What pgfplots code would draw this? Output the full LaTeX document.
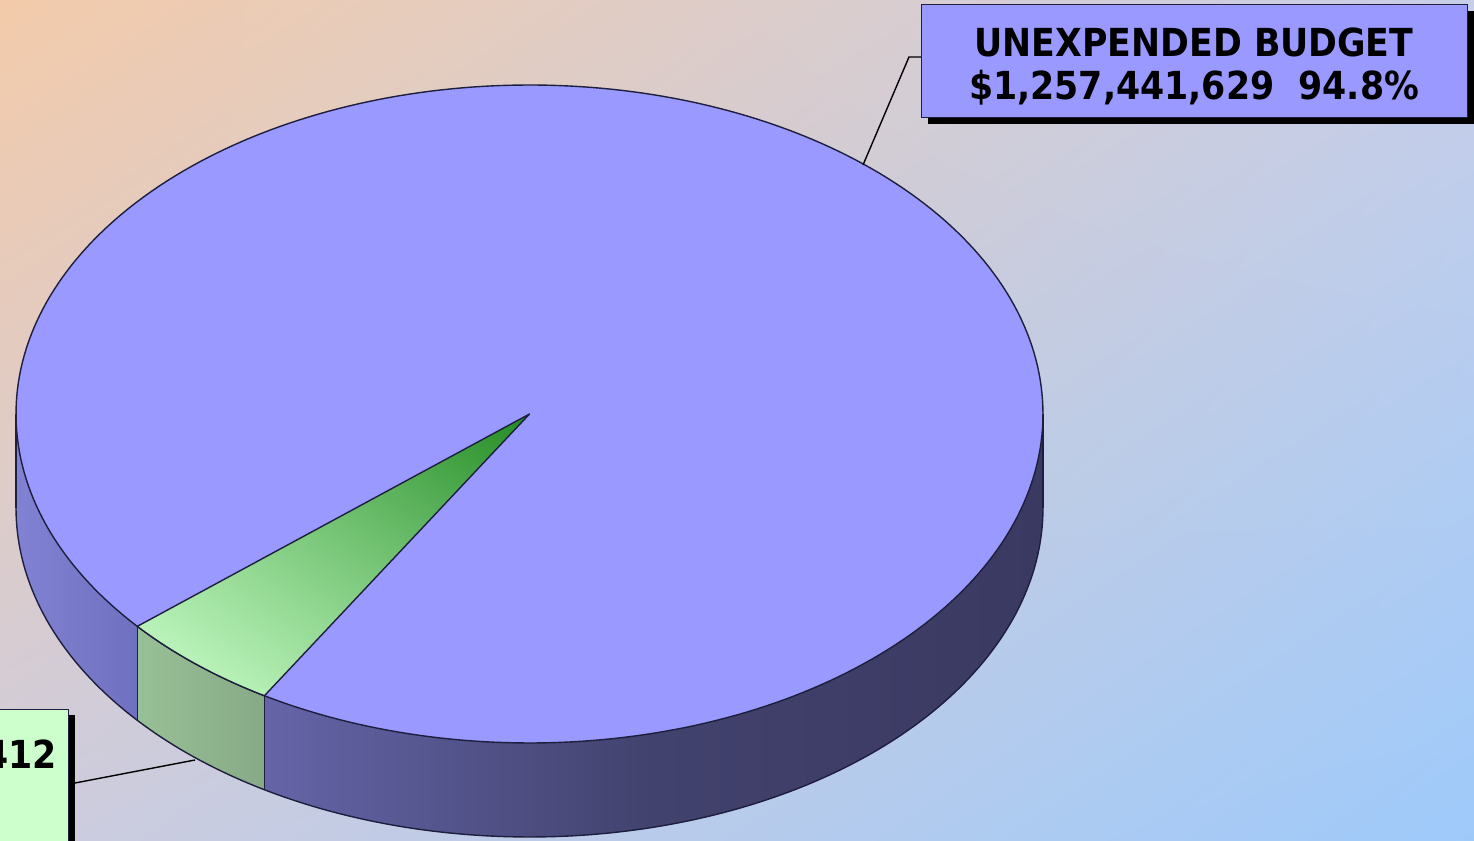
\documentclass[border=0pt]{standalone}
\usepackage{pgfplots}
\pgfplotsset{compat=1.18}
\usepackage{pgfplotstable}
\usepgfplotslibrary{fillbetween}
\usetikzlibrary{shadings}
\usepackage{fontspec}
\setmainfont{Liberation Sans}
\newfontfamily\labfont{DejaVuSansCondensed-Bold.ttf}

\definecolor{pieblue}{RGB}{153,153,255}
\definecolor{edge}{RGB}{30,30,62}
\definecolor{sideAL}{RGB}{130,130,212}
\definecolor{sideAR}{RGB}{112,112,192}
\definecolor{greenSL}{RGB}{152,192,150}
\definecolor{greenSR}{RGB}{134,170,134}
\definecolor{sideBL}{RGB}{100,100,168}
\definecolor{sideBM}{RGB}{66,66,110}
\definecolor{sideBR}{RGB}{57,57,97}
\definecolor{greenDark}{RGB}{34,139,34}
\definecolor{greenMid}{RGB}{130,205,130}
\definecolor{greenLight}{RGB}{204,255,204}
\definecolor{bgUL}{RGB}{243,203,170}
\definecolor{bgUR}{RGB}{200,206,232}
\definecolor{bgLL}{RGB}{206,204,222}
\definecolor{bgLR}{RGB}{158,202,250}
\definecolor{boxgreen}{RGB}{204,255,204}

\pgfplotstableread{
slice pct
Unexpended 94.8
Expended 5.2
}\piedata

\begin{document}
\begin{tikzpicture}
\pgfplotstablegetelem{1}{pct}\of\piedata
\let\pctB\pgfplotsretval
\def\cx{529.5}\def\cy{414}\def\rx{513.5}\def\ry{329}\def\dep{94}
\pgfmathsetmacro\gEnd{139.8}
\pgfmathsetmacro\gStart{\gEnd-3.6*\pctB}
\begin{axis}[x=0.5pt, y=0.5pt, y dir=reverse,
  xmin=0, xmax=1474, ymin=0, ymax=841,
  hide axis, clip=false, set layers,
  every axis plot/.append style={line join=round}]
\coordinate (P0) at (axis cs:0,0);
\coordinate (P1) at (axis cs:1474,841);
\begin{pgfonlayer}{axis background}
\shade[upper left=bgUL, upper right=bgUR, lower left=bgLL, lower right=bgLR]
  (axis cs:0,0) rectangle (axis cs:1474,841);
\end{pgfonlayer}

% side walls
\addplot[draw=none, name path=t1, domain=0:\gStart, samples=90, variable=\t] ({\cx+\rx*cos(\t)},{\cy+\ry*sin(\t)});
\addplot[draw=none, name path=b1, domain=0:\gStart, samples=90, variable=\t] ({\cx+\rx*cos(\t)},{\cy+\dep+\ry*sin(\t)});
\addplot[draw=none, left color=sideBL, right color=sideBR, middle color=sideBM] fill between[of=t1 and b1];

\addplot[draw=none, name path=t2, domain=\gStart:\gEnd, samples=20, variable=\t] ({\cx+\rx*cos(\t)},{\cy+\ry*sin(\t)});
\addplot[draw=none, name path=b2, domain=\gStart:\gEnd, samples=20, variable=\t] ({\cx+\rx*cos(\t)},{\cy+\dep+\ry*sin(\t)});
\addplot[draw=none, left color=greenSL, right color=greenSR] fill between[of=t2 and b2];

\addplot[draw=none, name path=t3, domain=\gEnd:180, samples=40, variable=\t] ({\cx+\rx*cos(\t)},{\cy+\ry*sin(\t)});
\addplot[draw=none, name path=b3, domain=\gEnd:180, samples=40, variable=\t] ({\cx+\rx*cos(\t)},{\cy+\dep+\ry*sin(\t)});
\addplot[draw=none, left color=sideAL, right color=sideAR] fill between[of=t3 and b3];

% top
\addplot[fill=pieblue, draw=edge, line width=0.7pt, domain=0:360, samples=300, variable=\t] ({\cx+\rx*cos(\t)},{\cy+\ry*sin(\t)}) -- cycle;
\addplot[draw=edge, line width=0.7pt, upper right=greenDark, lower left=greenLight, upper left=greenMid, lower right=greenMid,
  domain=\gStart:\gEnd, samples=20, variable=\t] ({\cx+\rx*cos(\t)},{\cy+\ry*sin(\t)}) -- (axis cs:\cx,\cy) -- cycle;

% side outlines
\addplot[draw=edge, line width=0.7pt, domain=0:180, samples=200, variable=\t] ({\cx+\rx*cos(\t)},{\cy+\dep+\ry*sin(\t)});
\addplot[draw=edge, line width=0.7pt, domain=0:1, samples=2] ({\cx+\rx*cos(\gStart)},{\cy+\ry*sin(\gStart)+\dep*x});
\addplot[draw=edge, line width=0.7pt, domain=0:1, samples=2] ({\cx+\rx*cos(\gEnd)},{\cy+\ry*sin(\gEnd)+\dep*x});
\addplot[draw=edge, line width=0.7pt, domain=0:1, samples=2] ({\cx+\rx},{\cy+\dep*x});
\addplot[draw=edge, line width=0.7pt, domain=0:1, samples=2] ({\cx-\rx},{\cy+\dep*x});

% leader lines
\draw[black, line width=0.7pt] (axis cs:863,165) -- (axis cs:909,57) -- (axis cs:921,57);
\draw[black, line width=0.7pt] (axis cs:195,760) -- (axis cs:75,783);

% blue label
\fill[black] (axis cs:928,11) rectangle (axis cs:1474,124);
\draw[fill=pieblue, draw=edge, line width=0.5pt] (axis cs:921,5) rectangle (axis cs:1467,118);
\node[font=\labfont\fontsize{19.3}{23}\selectfont, inner sep=0pt] at (axis cs:1194,42) {UNEXPENDED BUDGET};
\node[font=\labfont\fontsize{19.3}{23}\selectfont, inner sep=0pt] at (axis cs:1194,88) {\$1,257,441,629\ \ 94.8\%};

% green label
\fill[black] (axis cs:-700,715) rectangle (axis cs:75,900);
\draw[fill=boxgreen, draw=edge, line width=0.5pt] (axis cs:-700,710) rectangle (axis cs:68,900);
\node[font=\labfont\fontsize{19.3}{23}\selectfont, inner sep=0pt, anchor=east] at (axis cs:57,757) {EXPENDED BUDGET \$68,973,412};
\end{axis}
\pgfresetboundingbox
\path (P0) rectangle (P1);
\end{tikzpicture}
\end{document}
